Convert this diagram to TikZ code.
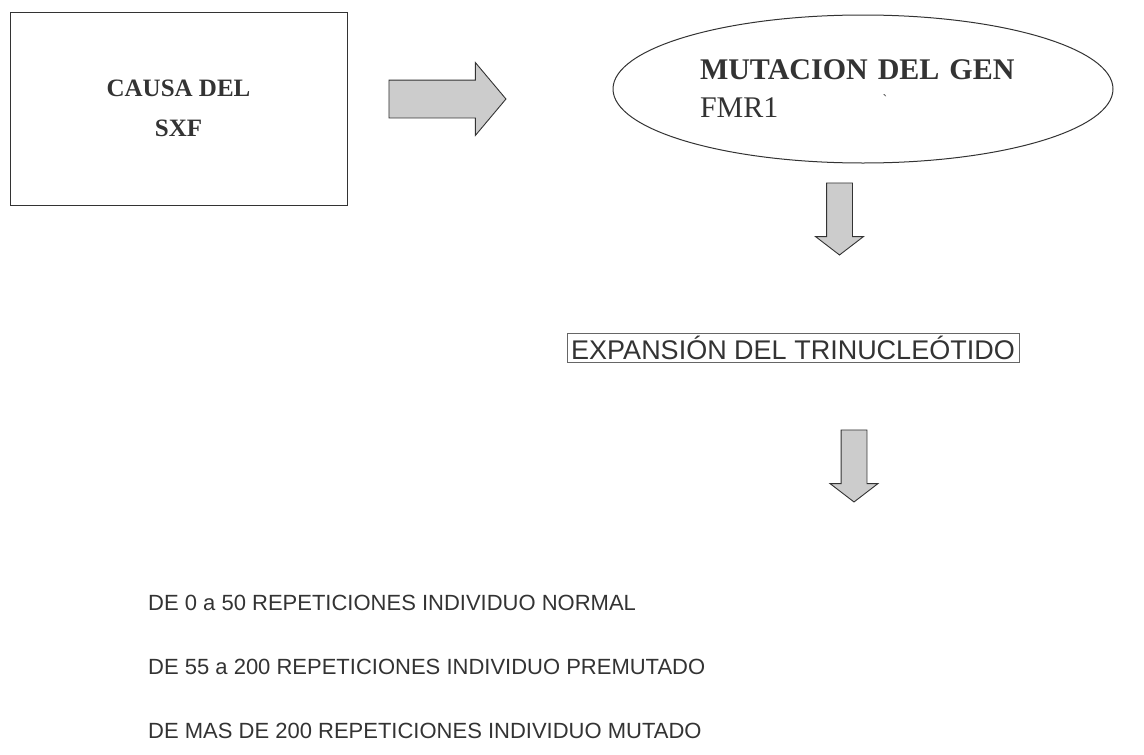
\documentclass[tikz,border=0pt]{standalone}
\usepackage{fontspec}
\setmainfont{Liberation Serif}
\newfontfamily\arialfont{Liberation Sans}
\usetikzlibrary{shapes, shapes.arrows, calc, positioning}
\definecolor{arrowgray}{rgb}{0.80,0.80,0.80}
\definecolor{scanblack}{rgb}{0.20,0.20,0.20}
\tikzset{
  causabox/.style={draw=scanblack, line width=1pt, rectangle, minimum width=337pt, minimum height=193pt, align=center, text=scanblack, font=\bfseries\fontsize{25}{40}\selectfont},
  genellipse/.style={draw=scanblack, line width=1pt, ellipse, minimum width=500pt, minimum height=148pt, inner sep=0pt, text width=326pt, align=left, text=scanblack, font=\fontsize{30}{38}\selectfont},
  expbox/.style={draw=black!60, line width=0.6pt, rectangle, minimum width=452pt, minimum height=29pt, inner sep=0pt, text=scanblack, font=\arialfont\fontsize{27}{30}\selectfont},
  fila/.style={anchor=base west, inner sep=0pt, text=scanblack, font=\arialfont\fontsize{22}{26}\selectfont},
  blockarrow/.style={single arrow, draw=scanblack, line width=0.9pt, fill=arrowgray, inner xsep=0pt, text height=0pt, text depth=0pt},
  bigarrow/.style={blockarrow, inner ysep=18.5pt, minimum height=117pt, single arrow head extend=17.5pt, single arrow tip angle=100},
  downarrow/.style={blockarrow, rotate=-90, inner ysep=12.5pt, minimum height=72pt, single arrow head extend=11pt, single arrow tip angle=105}
}

\begin{document}
\begin{tikzpicture}[x=1pt, y=-1pt]
  \useasboundingbox (0,0) rectangle (1144,755);

  \node[causabox] (causa) at (178.5,108.5) {CAUSA DEL\\SXF};
  \node[genellipse] (gen) at (863,89) {{\bfseries MUTACION DEL GEN}\\FMR1};
  \node[inner sep=0pt, text=scanblack, font=\fontsize{14}{14}\selectfont] (marca) at (885,100) {\textasciigrave};
  \node[expbox] (exp) at (793,347.5) {EXPANSIÓN DEL TRINUCLEÓTIDO};

  \node[bigarrow] (flecha1) at (439.5,99) {};
  \node[downarrow] (flecha2) at (839.5,214) {};
  \node[downarrow] (flecha3) at (854,461) {};

  \foreach \nombre/\y/\txt in {normal/610/DE 0 a 50 REPETICIONES INDIVIDUO NORMAL,
                               premutado/674/DE 55 a 200 REPETICIONES INDIVIDUO PREMUTADO,
                               mutado/738/DE MAS DE 200 REPETICIONES INDIVIDUO MUTADO}
    \node[fila] (\nombre) at (148,\y) {\txt};
\end{tikzpicture}
\end{document}
